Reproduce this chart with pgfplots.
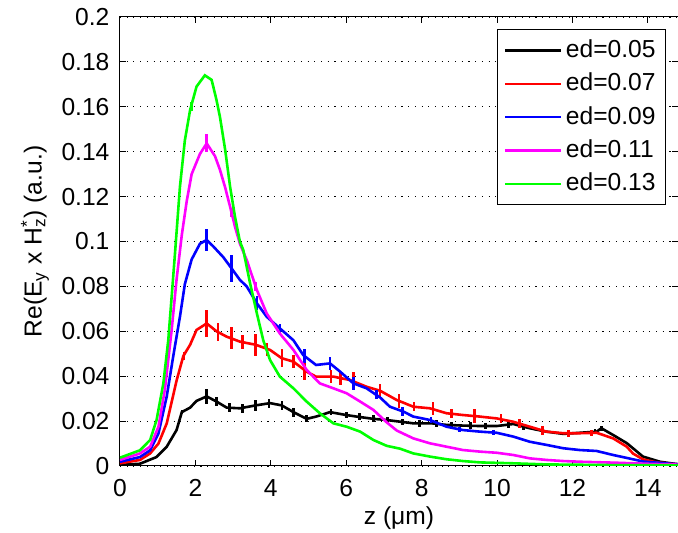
\documentclass[border=0pt]{standalone}
\usepackage{fontspec}
\setmainfont{Liberation Sans}
\usepackage{pgfplots}
\pgfplotsset{compat=1.18}
\usepackage{pgfplotstable}

\pgfplotstableread{
x y
0 0.0005
0.53 0.001
0.97 0.004
1.24 0.0086
1.5 0.016
1.64 0.024
1.86 0.026
2.03 0.029
2.3 0.031
2.56 0.0287
2.83 0.026
3.18 0.0257
3.6 0.027
3.98 0.028
4.29 0.027
4.6 0.024
4.95 0.021
5.2 0.022
5.57 0.024
6.0 0.0227
6.28 0.022
6.72 0.021
7.07 0.0205
7.4 0.0198
7.78 0.019
8.27 0.019
8.66 0.0183
9.1 0.018
9.55 0.0178
9.99 0.0178
10.43 0.0187
10.87 0.0168
11.31 0.0153
11.76 0.0143
12.2 0.0148
12.64 0.0153
12.77 0.0168
13.08 0.0138
13.44 0.0102
13.87 0.0042
14.32 0.0019
14.66 0.0011
14.8 0.0008
}\blackdata

\pgfplotstableread{
x y
0 0.0012
0.53 0.0027
0.8 0.0056
1.02 0.010
1.24 0.019
1.5 0.038
1.68 0.049
1.86 0.054
2.03 0.0606
2.3 0.0635
2.56 0.060
2.83 0.0576
3.18 0.0554
3.6 0.054
3.98 0.0517
4.29 0.048
4.6 0.0465
4.95 0.042
5.2 0.0398
5.66 0.0398
6.1 0.0383
6.54 0.0353
6.9 0.0335
7.34 0.0294
7.78 0.0264
8.22 0.0257
8.66 0.0235
9.1 0.0227
9.55 0.022
9.99 0.0212
10.43 0.0197
10.87 0.0175
11.31 0.0153
11.76 0.0146
12.2 0.0146
12.64 0.0148
13.08 0.0123
13.44 0.0086
13.61 0.0055
13.88 0.0029
14.23 0.0016
14.67 0.0009
14.8 0.0007
}\reddata

\pgfplotstableread{
x y
0 0.0019
0.53 0.004
0.8 0.007
1.02 0.0145
1.24 0.031
1.41 0.0487
1.59 0.0665
1.72 0.081
1.9 0.092
2.12 0.099
2.3 0.1007
2.48 0.0977
2.74 0.093
2.96 0.088
3.18 0.0829
3.36 0.080
3.63 0.0725
3.89 0.0665
4.24 0.0613
4.6 0.056
4.86 0.0494
5.2 0.045
5.57 0.0457
5.84 0.042
6.19 0.0368
6.54 0.0346
6.9 0.0305
7.16 0.0264
7.52 0.0242
7.78 0.022
8.22 0.0205
8.66 0.0175
9.1 0.016
9.55 0.0153
9.99 0.0148
10.43 0.0131
10.87 0.0108
11.31 0.0094
11.76 0.0079
12.2 0.0071
12.64 0.0067
13.08 0.0049
13.44 0.0036
13.87 0.002
14.67 0.0009
14.8 0.0008
}\bluedata

\pgfplotstableread{
x y
0 0.0027
0.53 0.0056
0.8 0.0086
1.02 0.0175
1.19 0.034
1.37 0.0606
1.5 0.083
1.64 0.103
1.77 0.118
1.9 0.130
2.12 0.139
2.3 0.1437
2.52 0.138
2.65 0.132
2.79 0.124
2.92 0.1155
3.05 0.1066
3.18 0.099
3.36 0.0918
3.63 0.0784
3.89 0.068
4.24 0.059
4.6 0.0517
4.95 0.0428
5.3 0.0368
5.66 0.0346
6.01 0.0324
6.37 0.0287
6.72 0.025
7.07 0.0195
7.34 0.0158
7.78 0.0123
8.22 0.0101
8.66 0.0086
9.1 0.0071
9.55 0.0064
9.99 0.0059
10.43 0.0049
10.87 0.0034
11.31 0.0027
11.76 0.0022
12.2 0.0019
13.08 0.0015
13.97 0.001
14.67 0.0007
14.8 0.0006
}\magentadata

\pgfplotstableread{
x y
0 0.0037
0.53 0.007
0.8 0.0116
0.97 0.0205
1.15 0.0368
1.28 0.056
1.37 0.0754
1.46 0.095
1.59 0.1244
1.72 0.145
1.86 0.1586
2.03 0.169
2.25 0.174
2.43 0.172
2.56 0.163
2.65 0.1556
2.79 0.1408
2.92 0.1244
3.05 0.111
3.18 0.100
3.27 0.0962
3.45 0.0814
3.63 0.068
3.8 0.056
3.98 0.0472
4.24 0.0398
4.6 0.0346
4.95 0.0287
5.3 0.0235
5.66 0.019
6.01 0.0175
6.37 0.0153
6.72 0.0116
7.07 0.009
7.43 0.0077
7.78 0.0056
8.22 0.0042
8.66 0.003
9.1 0.0022
9.55 0.0016
10.43 0.0012
11.31 0.0007
13.08 0.0004
14.8 0.0003
}\greendata

\pgfplotstableread{
x y e
1.64 0.024 0.001
2.3 0.031 0.0035
2.56 0.0287 0.002
2.9 0.026 0.002
3.25 0.0257 0.002
3.6 0.027 0.0025
3.95 0.028 0.002
4.3 0.027 0.002
4.6 0.024 0.002
4.95 0.021 0.0015
5.6 0.024 0.0015
6.0 0.0227 0.0015
6.35 0.022 0.0015
6.72 0.021 0.0015
7.1 0.0205 0.0015
7.5 0.0196 0.0015
7.95 0.019 0.0015
8.4 0.0188 0.0015
8.8 0.0182 0.0015
9.3 0.018 0.0015
9.7 0.0178 0.0015
10.3 0.0184 0.0015
10.7 0.0174 0.0012
11.2 0.0156 0.0012
12.6 0.0153 0.001
12.77 0.0168 0.001
}\blackerr

\pgfplotstableread{
x y e
1.7 0.049 0.002
2.3 0.0635 0.006
2.6 0.0598 0.004
2.95 0.057 0.005
3.25 0.0552 0.003
3.6 0.054 0.005
3.9 0.052 0.003
4.3 0.048 0.004
4.6 0.0465 0.003
4.9 0.0425 0.004
5.6 0.0398 0.003
5.85 0.039 0.003
6.2 0.038 0.004
6.9 0.0335 0.003
7.4 0.029 0.003
7.8 0.0264 0.002
8.3 0.0255 0.003
8.8 0.0233 0.002
9.4 0.0222 0.003
10.1 0.021 0.002
10.6 0.019 0.002
11.2 0.0157 0.002
11.9 0.0146 0.0015
12.5 0.0147 0.0015
}\rederr

\pgfplotstableread{
x y e
2.3 0.1007 0.005
2.96 0.088 0.006
3.63 0.0725 0.003
4.24 0.0613 0.002
4.9 0.049 0.003
5.57 0.0457 0.003
6.19 0.0368 0.003
6.8 0.032 0.002
7.5 0.0242 0.002
8.25 0.0205 0.0015
9.0 0.0163 0.0012
9.9 0.015 0.0012
}\blueerr

\pgfplotstableread{
x y e
2.3 0.1437 0.004
2.95 0.113 0.002
3.6 0.080 0.002
}\magentaerr

\pgfplotstableread{
x y e
1.9 0.16 0.002
}\greenerr

\definecolor{mgreen}{RGB}{0,255,0}
\definecolor{mmagenta}{RGB}{255,0,255}
\definecolor{mred}{RGB}{255,0,0}
\definecolor{mblue}{RGB}{0,0,255}

\pgfplotsset{
  errstyle/.style={draw=none, mark=none, forget plot,
    error bars/.cd, y dir=both, y explicit, error mark=none,
    error bar style={draw=#1, line width=1.3pt, solid}},
}

\begin{document}
\fontsize{12.3}{14.8}\selectfont
\begin{tikzpicture}
\begin{axis}[
  scale only axis,
  width=279pt, height=224.5pt,
  xmin=0, xmax=14.8, ymin=0, ymax=0.2,
  xtick={0,2,4,6,8,10,12,14},
  xticklabels={0,2,4,6,8,10,12,14},
  ytick={0,0.02,0.04,0.06,0.08,0.1,0.12,0.14,0.16,0.18,0.2},
  yticklabels={0,0.02,0.04,0.06,0.08,0.1,0.12,0.14,0.16,0.18,0.2},
  scaled y ticks=false, scaled x ticks=false,
  /pgf/number format/assume math mode=true,
  tick align=inside, xtick pos=both, ytick pos=both,
  major tick length=2.8pt,
  tick style={black, line width=0.5pt},
  axis line style={black, line width=0.5pt},
  ymajorgrids,
  major grid style={black, line width=0.55pt, dash pattern=on 0.55pt off 2.8pt},
  xticklabel style={yshift=-2.5pt},
  yticklabel style={xshift=-1pt},
  xlabel={z (μm)},
  ylabel={Re(E\textsubscript{y} x H\rlap{\textsuperscript{*}}\textsubscript{z}) (a.u.)},
  xlabel style={at={(axis description cs:0.5,-0.116)}, anchor=center},
  ylabel style={at={(axis description cs:-0.1523,0.5)}, anchor=center, rotate=0},
  legend image code/.code={\draw[#1] (0pt,0pt) -- (27.8pt,0pt);},
  legend style={at={(0.9785,0.9726)}, anchor=north east, draw=black, line width=0.5pt,
    fill=white, inner xsep=3pt, inner ysep=3pt, row sep=1.9pt,
    nodes={inner sep=2pt, text depth=0.15em}, cells={anchor=west}},
  every axis plot/.append style={line width=1.3pt},
]
\addplot[black] table[x=x,y=y] {\blackdata};
\addlegendentry{ed=0.05}
\addplot[errstyle=black] table[x=x,y=y,y error=e] {\blackerr};
\addplot[mred] table[x=x,y=y] {\reddata};
\addlegendentry{ed=0.07}
\addplot[errstyle=mred] table[x=x,y=y,y error=e] {\rederr};
\addplot[mblue] table[x=x,y=y] {\bluedata};
\addlegendentry{ed=0.09}
\addplot[errstyle=mblue] table[x=x,y=y,y error=e] {\blueerr};
\addplot[mmagenta] table[x=x,y=y] {\magentadata};
\addlegendentry{ed=0.11}
\addplot[errstyle=mmagenta] table[x=x,y=y,y error=e] {\magentaerr};
\addplot[mgreen] table[x=x,y=y] {\greendata};
\addlegendentry{ed=0.13}
\addplot[errstyle=mgreen] table[x=x,y=y,y error=e] {\greenerr};
\end{axis}
\pgfresetboundingbox
\path ([shift={(-60pt,-33.5pt)}]current axis.south west) rectangle ([shift={(0pt,8.5pt)}]current axis.north east);
\end{tikzpicture}
\end{document}
